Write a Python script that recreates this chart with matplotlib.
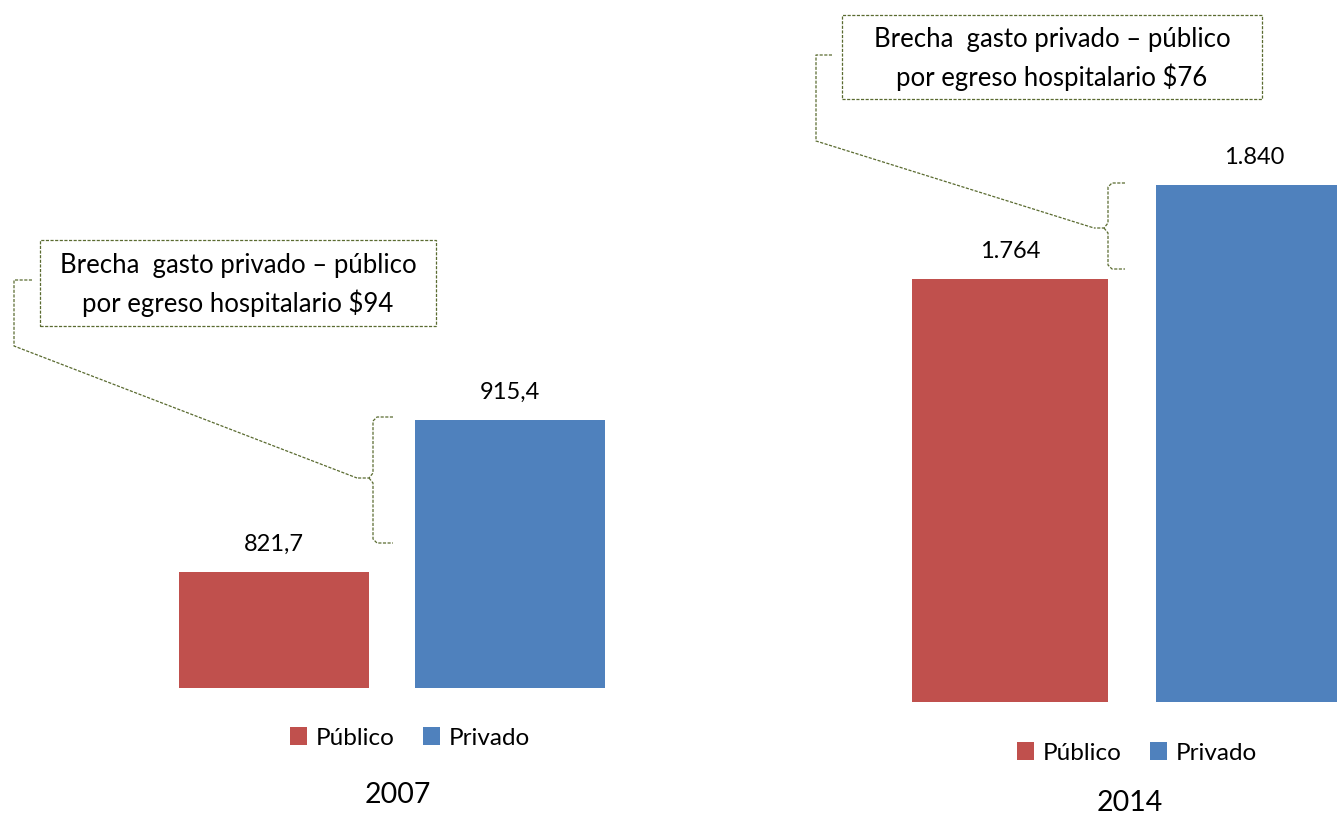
"""Gasto publico vs privado por egreso hospitalario, 2007 y 2014."""

import matplotlib
matplotlib.use("Agg")
import matplotlib.pyplot as plt
from matplotlib.lines import Line2D
from matplotlib.patches import Patch, Rectangle

plt.rcParams["font.family"] = ["Lato", "DejaVu Sans"]

SERIES = ["Público", "Privado"]
COLORS = ["#C0504D", "#4F81BD"]

VALUES_2007 = [821.7, 915.4]
LABELS_2007 = ["821,7", "915,4"]
VALUES_2014 = [1764, 1840]
LABELS_2014 = ["1.764", "1.840"]

GAP_2007 = "Brecha  gasto privado – público\npor egreso hospitalario $94"
GAP_2014 = "Brecha  gasto privado – público\npor egreso hospitalario $76"

W, H = 1337, 816
LINE_COLOR = "#5a6b30"


def fx(x):
    return x / W


def fy(y):
    return 1 - y / H


def add_axes_px(fig, left, right, bottom, top):
    return fig.add_axes([fx(left), fy(bottom), fx(right) - fx(left), fy(top) - fy(bottom)])


def dashed(fig, pts):
    xs = [fx(p[0]) for p in pts]
    ys = [fy(p[1]) for p in pts]
    fig.add_artist(Line2D(xs, ys, transform=fig.transFigure, color=LINE_COLOR,
                          lw=0.9, linestyle=(0, (2.5, 1.2))))


def callout(fig, box, text, leader, brace):
    x0, y0, x1, y1 = box
    fig.add_artist(Rectangle((fx(x0), fy(y1)), fx(x1) - fx(x0), fy(y0) - fy(y1),
                             transform=fig.transFigure, fill=False, edgecolor=LINE_COLOR,
                             lw=0.9, linestyle=(0, (2.5, 1.2))))
    fig.text(fx((x0 + x1) / 2), fy((y0 + y1) / 2 + 2), text, ha="center", va="center",
             fontsize=18.5, linespacing=1.5)
    dashed(fig, leader)
    # brace: xb vertical, top/bottom, right end, tip
    xb, yt, yb, xr, ytip, xtip = brace
    dashed(fig, [(xr, yt), (xb + 4, yt), (xb, yt + 4), (xb, ytip - 5), (xb - 4, ytip),
                 (xtip, ytip)])
    dashed(fig, [(xb - 4, ytip), (xb, ytip + 5), (xb, yb - 4), (xb + 4, yb), (xr, yb)])


def panel(fig, ax, values, labels, ylim, year, legend_xy, title_xy):
    xs = range(len(values))
    bars = ax.bar(xs, values, width=0.805, color=COLORS)
    ax.set_xlim(-0.5, 1.5)
    ax.set_ylim(*ylim)
    ax.axis("off")
    for b, lab in zip(bars, labels):
        ax.annotate(lab, (b.get_x() + b.get_width() / 2, b.get_height()),
                    xytext=(0, 12), textcoords="offset points", ha="center",
                    va="bottom", fontsize=17)
    handles = [Patch(facecolor=c, label=s) for s, c in zip(SERIES, COLORS)]
    fig.legend(handles=handles, loc="center", bbox_to_anchor=(fx(legend_xy[0]), fy(legend_xy[1])),
               ncol=2, frameon=False, fontsize=17.5, handlelength=0.7, handleheight=0.7,
               handletextpad=0.35, columnspacing=1.2)
    fig.text(fx(title_xy[0]), fy(title_xy[1]), year, ha="center", va="center", fontsize=20.5)


fig = plt.figure(figsize=(W / 100, H / 100), dpi=100)

ax1 = add_axes_px(fig, 156, 628, 688, 688 - 250 * 1.622)
panel(fig, ax1, VALUES_2007, LABELS_2007, (750, 1000), "2007", (410, 738), (398, 795))

ax2 = add_axes_px(fig, 888, 1376, 702, 702 - 478 * 1.237)
panel(fig, ax2, VALUES_2014, LABELS_2014, (1422, 1900), "2014", (1137, 753), (1130, 803))

callout(fig, (40, 240, 436, 326), GAP_2007,
        [(32, 280), (14, 280), (14, 346), (357, 478)],
        (373, 417, 543, 393, 478, 357))
callout(fig, (842, 15, 1262, 99), GAP_2014,
        [(832, 55), (816, 55), (816, 141), (1094, 228)],
        (1108, 183, 269, 1125, 228, 1094))

plt.savefig("out.png", dpi=100)
plt.close()
